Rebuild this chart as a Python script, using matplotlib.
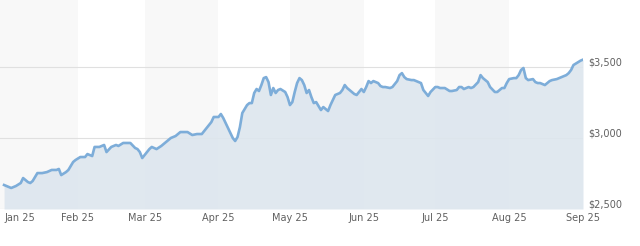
import numpy as np
import matplotlib
matplotlib.use("Agg")
import matplotlib.pyplot as plt

# days after 25 Jan 2025, and closing price
days = [0, 3, 5, 7, 8, 10, 11, 12, 14, 16, 18, 20, 22, 23, 24, 26, 27, 29, 30, 32,
        34, 35, 37, 38, 40, 42, 43, 45, 47, 48, 50, 52, 53, 55, 56, 57, 58, 60, 61, 62,
        64, 66, 68, 70, 72, 74, 77, 79, 81, 83, 85, 87, 88, 90, 91, 92, 94, 96, 97, 98,
        99, 100, 102, 103, 104, 105, 106, 107, 108, 109, 110, 111, 112, 113, 114, 115, 116, 118, 119, 120,
        121, 122, 123, 124, 125, 126, 127, 128, 129, 130, 131, 132, 133, 134, 135, 136, 137, 138, 139, 141,
        142, 143, 144, 146, 147, 148, 149, 150, 151, 152, 153, 154, 155, 157, 158, 159, 160, 162, 163, 165,
        166, 167, 168, 169, 171, 172, 174, 175, 176, 178, 179, 181, 182, 183, 185, 187, 188, 190, 191, 192,
        193, 195, 196, 197, 199, 200, 201, 203, 204, 206, 207, 209, 210, 211, 212, 214, 215, 216, 217, 218,
        219, 220, 222, 223, 224, 225, 227, 228, 229, 230, 232, 233, 234, 236, 237, 238, 239, 241, 242, 243]
price = [2669, 2648, 2662, 2683, 2718, 2690, 2683, 2697, 2753, 2753, 2760, 2775, 2775, 2782, 2739, 2760, 2775, 2831, 2845, 2866,
         2866, 2887, 2873, 2937, 2937, 2951, 2901, 2937, 2951, 2944, 2965, 2965, 2965, 2930, 2922, 2901, 2859, 2901, 2922, 2937,
         2922, 2944, 2972, 3000, 3014, 3042, 3042, 3021, 3028, 3028, 3070, 3112, 3148, 3148, 3169, 3141, 3070, 3000, 2979, 3007,
         3077, 3176, 3232, 3246, 3246, 3317, 3345, 3331, 3373, 3422, 3429, 3394, 3303, 3352, 3317, 3338, 3345, 3324, 3288, 3232,
         3253, 3324, 3387, 3422, 3408, 3373, 3317, 3338, 3288, 3246, 3253, 3225, 3197, 3218, 3204, 3190, 3232, 3267, 3303, 3317,
         3338, 3373, 3352, 3324, 3310, 3303, 3324, 3345, 3324, 3359, 3401, 3387, 3401, 3387, 3366, 3359, 3359, 3352, 3359, 3401,
         3443, 3457, 3429, 3415, 3408, 3408, 3394, 3387, 3338, 3296, 3324, 3359, 3359, 3352, 3352, 3331, 3331, 3338, 3359, 3359,
         3345, 3359, 3352, 3359, 3394, 3443, 3422, 3394, 3359, 3324, 3324, 3352, 3352, 3387, 3415, 3422, 3422, 3443, 3479, 3493,
         3422, 3408, 3415, 3394, 3387, 3387, 3373, 3387, 3401, 3408, 3415, 3422, 3429, 3443, 3457, 3479, 3514, 3535, 3545, 3552]

month_days = [0, 31, 59, 90, 120, 151, 181, 212, 243]
month_labels = ["Jan 25", "Feb 25", "Mar 25", "Apr 25", "May 25", "Jun 25", "Jul 25", "Aug 25", "Sep 25"]
yticks = [2500, 3000, 3500]
ylabels = ["$2,500", "$3,000", "$3,500"]

fig = plt.figure(figsize=(6.4, 2.46), dpi=100)
ax = fig.add_axes([0, 37 / 246, 583 / 640, 209 / 246])
x0 = -1.7
ax.set_xlim(x0, 243)
ax.set_ylim(2500, 3972)

# alternating month bands
for i in range(len(month_days) - 1):
    if i % 2 == 0:
        left = x0 if i == 0 else month_days[i]
        ax.axvspan(left, month_days[i + 1], color="#f8f8f8", lw=0, zorder=0)

for y in yticks:
    ax.axhline(y, color="#e0e0e0", lw=0.8, zorder=1)

ax.fill_between(days, price, 2500, color="#dde6ee", alpha=0.9, lw=0, zorder=2)
ax.plot(days, price, color="#7dadd9", lw=1.9, zorder=3, solid_joinstyle="round")

for s in ax.spines.values():
    s.set_visible(False)
ax.set_xticks([])
ax.set_yticks([])

for d, lab in zip(month_days, month_labels):
    ha = "left" if d == 0 else "center"
    xx = 0.2 if d == 0 else d
    ax.text(xx, 2500 - 62, lab, ha=ha, va="center", fontsize=7, color="#606060", clip_on=False)

for y, lab in zip(yticks, ylabels):
    ax.text(245, y + 35, lab, ha="left", va="center", fontsize=7, color="#606060", clip_on=False)

fig.savefig("out.png", dpi=100)
